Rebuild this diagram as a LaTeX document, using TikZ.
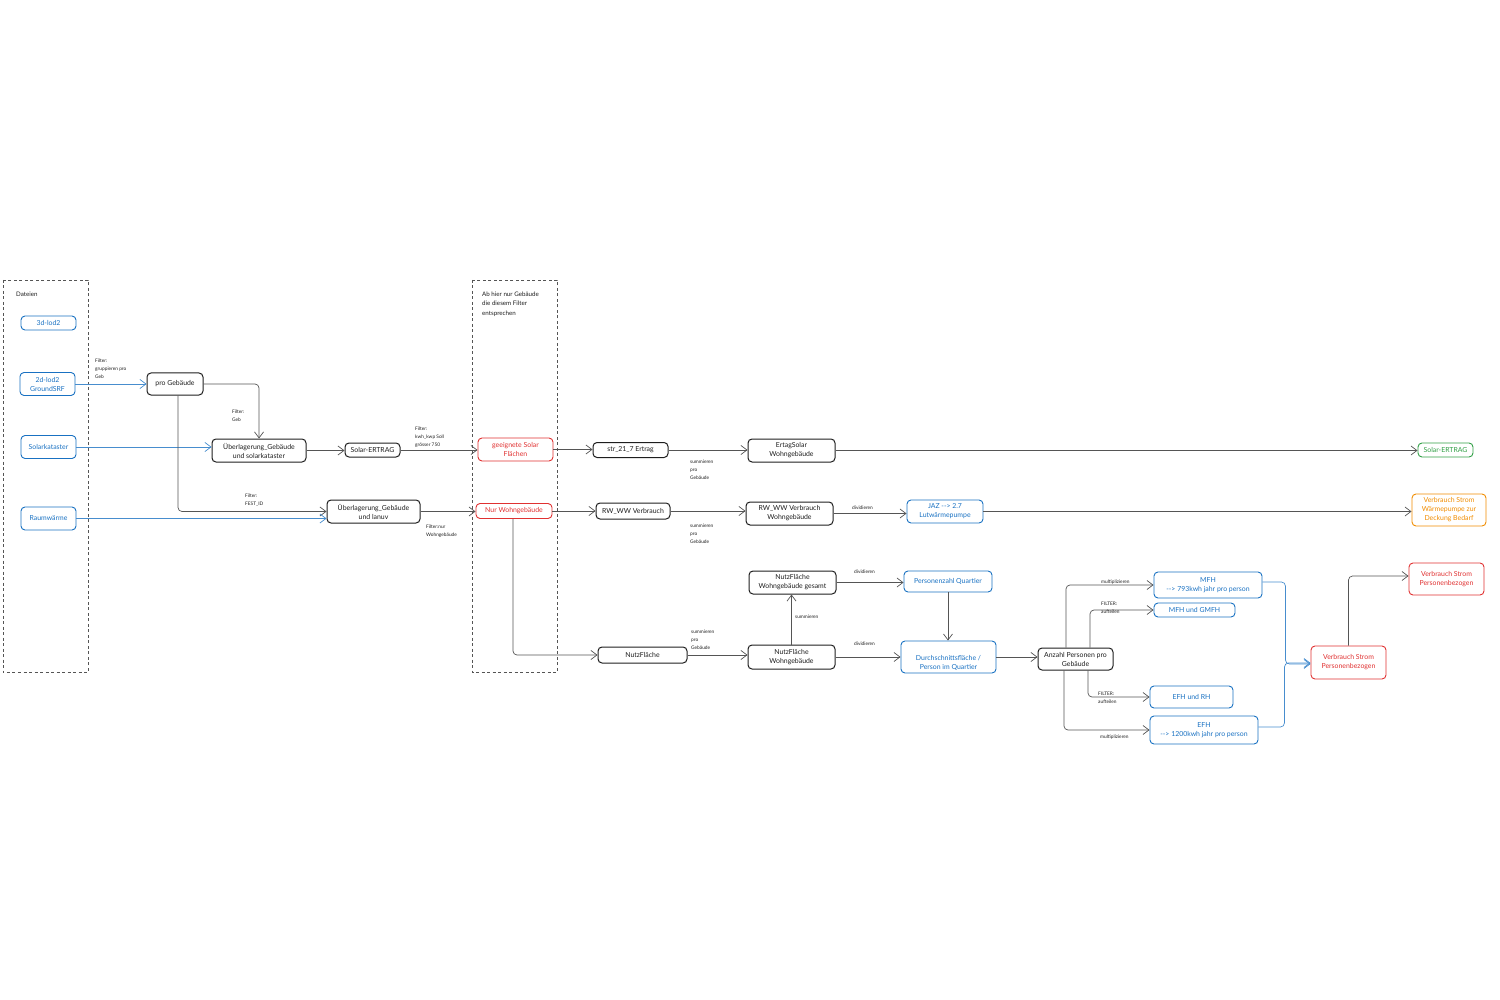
\documentclass[tikz,border=0pt]{standalone}
\usepackage{fontspec}
\setmainfont{Lato}
\usetikzlibrary{arrows.meta,calc}
\definecolor{cblue}{HTML}{1971C2}
\definecolor{cred}{HTML}{E03131}
\definecolor{corange}{HTML}{F08C00}
\definecolor{cgreen}{HTML}{2F9E44}
\definecolor{cink}{HTML}{1E1E1E}
\definecolor{cgray}{HTML}{555555}
\tikzset{
  box/.style={draw, rounded corners=4pt, line width=0.9pt, align=center, inner sep=0pt,
    font=\fontsize{6.9}{9}\selectfont},
  bk/.style={box, draw=cink, text=cink, line width=1pt},
  bl/.style={box, draw=cblue, text=cblue},
  rd/.style={box, draw=cred, text=cred},
  og/.style={box, draw=corange, text=corange},
  gn/.style={box, draw=cgreen, text=cgreen},
  ar/.style={draw=cgray, line width=0.7pt, rounded corners=4pt, -{Straight Barb[length=6pt,width=9pt,line width=0.7pt]}},
  arb/.style={ar, draw=cblue!80},
  lbl/.style={anchor=north west, align=left, inner sep=0pt, text=cink,
    font=\fontsize{4.8}{7.8}\selectfont},
  frame/.style={draw=cgray, dashed, line width=0.7pt, dash pattern=on 3pt off 2.5pt},
  ftext/.style={anchor=north west, align=left, inner sep=0pt, text=cink,
    font=\fontsize{6.2}{9.5}\selectfont}
}
\begin{document}
\begin{tikzpicture}[x=1pt,y=-1pt]
\useasboundingbox (0,0) rectangle (1500,1000);
% frames
\draw[frame] (3,280) rectangle (88,672);
\node[ftext] (fa) at (16,291.5) {Dateien};
\draw[frame] (472,280) rectangle (557,672);
\node[ftext] (fb) at (482,291.5) {Ab hier nur Gebäude\\die diesem Filter\\entsprechen};
% blue inputs
\node[bl, minimum width=55pt, minimum height=14pt] (l3d) at (48.5,323) {3d-lod2};
\node[bl, minimum width=55pt, minimum height=23pt] (l2d) at (47.5,384) {2d-lod2\\GroundSRF};
\node[bl, minimum width=55pt, minimum height=23pt] (sk) at (48.5,447) {Solarkataster};
\node[bl, minimum width=55pt, minimum height=23pt] (rw) at (48.5,518.5) {Raumwärme};
% black nodes
\node[bk, minimum width=56pt, minimum height=22pt] (pg) at (175,384) {pro Gebäude};
\node[bk, minimum width=94pt, minimum height=23pt] (us) at (259,450.5) {Überlagerung\_Gebäude\\und solarkataster};
\node[bk, minimum width=55pt, minimum height=14pt] (se) at (372.5,450) {Solar-ERTRAG};
\node[bk, minimum width=93pt, minimum height=23pt] (ul) at (373.5,511.5) {Überlagerung\_Gebäude\\und lanuv};
\node[rd, minimum width=75pt, minimum height=23pt] (gs) at (515.5,449.5) {geeignete Solar\\Flächen};
\node[rd, minimum width=76pt, minimum height=15pt] (nw) at (514,511) {Nur Wohngebäude};
\node[bk, minimum width=75pt, minimum height=15pt] (st) at (630.5,450) {str\_21\_7 Ertrag};
\node[bk, minimum width=74pt, minimum height=16pt] (rv) at (633,511) {RW\_WW Verbrauch};
\node[bk, minimum width=89pt, minimum height=16pt] (nf) at (642.5,655) {NutzFläche};
\node[bk, minimum width=87pt, minimum height=23pt] (es) at (791.5,450.5) {ErtagSolar\\Wohngebäude};
\node[bk, minimum width=87pt, minimum height=23pt] (rvw) at (789.5,513.5) {RW\_WW Verbrauch\\Wohngebäude};
\node[bk, minimum width=87pt, minimum height=23pt] (nfg) at (792.5,582.5) {NutzFläche\\Wohngebäude gesamt};
\node[bk, minimum width=87pt, minimum height=24pt] (nfw) at (791.5,657) {NutzFläche\\Wohngebäude};
\node[bl, minimum width=76pt, minimum height=23pt] (jaz) at (945,511.5) {JAZ -{}-{}> 2.7\\Lutwärmepumpe};
\node[bl, minimum width=88pt, minimum height=21pt] (pq) at (948,581.5) {Personenzahl Quartier};
\node[bl, minimum width=95pt, minimum height=32pt] (ds) at (948.5,657) {\rule{0pt}{8pt}\\Durchschnittsfläche /\\Person im Quartier};
\node[bk, minimum width=75pt, minimum height=22pt] (ap) at (1075.5,659) {Anzahl Personen pro\\Gebäude};
\node[bl, minimum width=108pt, minimum height=26pt] (mfh) at (1208,585) {MFH\\-{}-{}> 793kwh jahr pro person};
\node[bl, minimum width=81pt, minimum height=14pt] (mg) at (1194.5,610) {MFH und GMFH};
\node[bl, minimum width=83pt, minimum height=22pt] (er) at (1191.5,697) {EFH und RH};
\node[bl, minimum width=108pt, minimum height=28pt] (efh) at (1204,730) {EFH\\-{}-{}> 1200kwh jahr pro person};
\node[rd, minimum width=75pt, minimum height=33pt] (vp1) at (1348.5,662.5) {Verbrauch Strom\\Personenbezogen};
\node[rd, minimum width=75pt, minimum height=32pt] (vp2) at (1446.5,579) {Verbrauch Strom\\Personenbezogen};
\node[og, minimum width=74pt, minimum height=32pt] (vw) at (1449,510) {Verbrauch Strom\\Wärmepumpe zur\\Deckung Bedarf};
\node[gn, minimum width=55pt, minimum height=14pt] (sg) at (1445.5,450) {Solar-ERTRAG};
% connectors
\draw[arb] (l2d.east) -- (l2d.east -| pg.west);
\draw[ar] (pg.east) -| (us.north);
\draw[arb] (sk.east) -- (sk.east -| us.west);
\draw[ar] ([xshift=3pt]pg.south) |- (ul.west);
\draw[arb] (rw.east) -- (rw.east -| ul.west);
\draw[ar] (us.east) -- (us.east -| se.west);
\draw[ar] (se.east) -- (se.east -| gs.west);
\draw[ar] (ul.east) -- (ul.east -| nw.west);
\draw[ar] (gs.east) -- (gs.east -| st.west);
\draw[ar] (st.east) -- (st.east -| es.west);
\draw[ar] (es.east) -- (es.east -| sg.west);
\draw[ar] (nw.east) -- (nw.east -| rv.west);
\draw[ar] (rv.east) -- (rv.east -| rvw.west);
\draw[ar] (rvw.east) -- (rvw.east -| jaz.west);
\draw[ar] (jaz.east) -- (jaz.east -| vw.west);
\draw[ar] ([xshift=-1pt]nw.south) |- (nf.west);
\draw[ar] (nf.east) -- (nf.east -| nfw.west);
\draw[ar] (nfw.north) -- (nfw.north |- nfg.south);
\draw[ar] (nfg.east) -- (nfg.east -| pq.west);
\draw[ar] (nfw.east) -- (nfw.east -| ds.west);
\draw[ar] (pq.south) -- (pq.south |- ds.north);
\draw[ar] (ds.east) -- (ds.east -| ap.west);
\draw[ar] ([xshift=-9.5pt]ap.north) |- (mfh.west);
\draw[ar] ([xshift=14.5pt]ap.north) |- (mg.west);
\draw[ar] ([xshift=12.5pt]ap.south) |- (er.west);
\draw[ar] ([xshift=-11.5pt]ap.south) |- (efh.west);
\draw[arb] ([yshift=3pt]mfh.east) -- ++(23,0) |- ([yshift=-1.5pt]vp1.west);
\draw[arb] ([yshift=3pt]efh.east) -- ++(26,0) |- ([yshift=-0.5pt]vp1.west);
\draw[ar] (vp1.north) |- ([yshift=3pt]vp2.west);
% labels
\node[lbl] (t1) at (95,359) {Filter:\\gruppieren pro\\Geb};
\node[lbl] (t2) at (232,410) {Filter:\\Geb};
\node[lbl] (t3) at (415,427) {Filter:\\kwh\_kwp Soll\\grösser 750};
\node[lbl] (t4) at (245,494) {Filter:\\FEST\_ID};
\node[lbl] (t5) at (426,525) {Filter:nur\\Wohngebäude};
\node[lbl] (t6) at (690,460) {summieren\\pro\\Gebäude};
\node[lbl] (t7) at (690,524) {summieren\\pro\\Gebäude};
\node[lbl] (t8) at (852,506) {dividieren};
\node[lbl] (t9) at (691,630) {summieren\\pro\\Gebäude};
\node[lbl] (t10) at (795,615) {summieren};
\node[lbl] (t11) at (854,570) {dividieren};
\node[lbl] (t12) at (854,642) {dividieren};
\node[lbl] (t13) at (1101,580) {multiplizieren};
\node[lbl] (t14) at (1101,602) {FILTER:\\aufteilen};
\node[lbl] (t15) at (1098,692) {FILTER:\\aufteilen};
\node[lbl] (t16) at (1100,735) {multiplizieren};
\end{tikzpicture}
\end{document}
